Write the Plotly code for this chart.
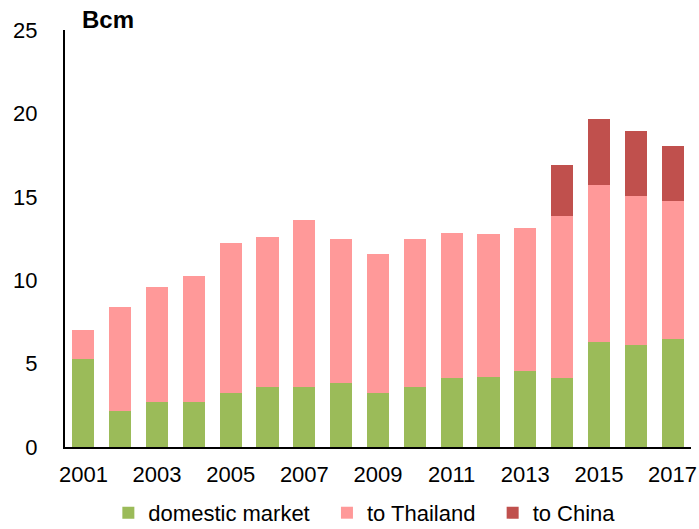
import plotly.graph_objects as go

years = list(range(2001, 2018))
domestic = [5.26, 2.15, 2.67, 2.67, 3.25, 3.61, 3.61, 3.84, 3.25, 3.57, 4.16, 4.22, 4.58, 4.16, 6.27, 6.13, 6.50]
totals_thai = [7.03, 8.42, 9.60, 10.26, 12.23, 12.60, 13.60, 12.47, 11.58, 12.47, 12.83, 12.75, 13.13, 13.86, 15.70, 15.04, 14.76]
to_thailand = [round(t - d, 2) for t, d in zip(totals_thai, domestic)]
to_china = [0, 0, 0, 0, 0, 0, 0, 0, 0, 0, 0, 0, 0, 3.04, 3.98, 3.92, 3.31]
series_names = ["domestic market", "to Thailand", "to China"]

FONT = "Arial, Liberation Sans, sans-serif"
PAD = "\u00a0\u00a0"

fig = go.Figure()
fig.add_trace(go.Bar(x=years, y=domestic, name=series_names[0] + PAD, marker_color="#9BBB59",
                     marker_line_width=0))
fig.add_trace(go.Bar(x=years, y=to_thailand, name=series_names[1] + PAD, marker_color="#FF9999",
                     marker_line_width=0))
fig.add_trace(go.Bar(x=years, y=to_china, name=series_names[2], marker_color="#C0504D",
                     marker_line_width=0))

fig.update_layout(
    barmode="stack",
    bargap=0.4,
    width=699, height=529,
    margin=dict(l=65, r=8, t=30, b=82, autoexpand=False),
    plot_bgcolor="white", paper_bgcolor="white",
    font=dict(family=FONT, size=22, color="black"),
    showlegend=True,
    legend=dict(orientation="h", x=0.479, xanchor="center", y=-0.158, yanchor="middle",
                font=dict(size=22), traceorder="normal", itemwidth=30),
    annotations=[dict(text="<b>Bcm</b>", xref="paper", yref="paper", x=0.024, y=1.026,
                      xanchor="left", yanchor="middle", showarrow=False,
                      font=dict(size=24, family=FONT))],
)
fig.update_xaxes(range=[2000.5, 2017.5], tick0=2001, dtick=2, tickmode="linear",
                 showline=True, linecolor="black", linewidth=2, showgrid=False,
                 zeroline=False, ticks="", ticklabelstandoff=7, automargin=False)
fig.update_yaxes(range=[0, 25], dtick=5, showline=True, linecolor="black", linewidth=2,
                 showgrid=False, zeroline=False, ticks="", ticklabelstandoff=21,
                 automargin=False)

fig.write_html("out.html", config={"displayModeBar": False},
               post_script="document.body.style.margin='0';document.body.style.overflow='hidden';")
